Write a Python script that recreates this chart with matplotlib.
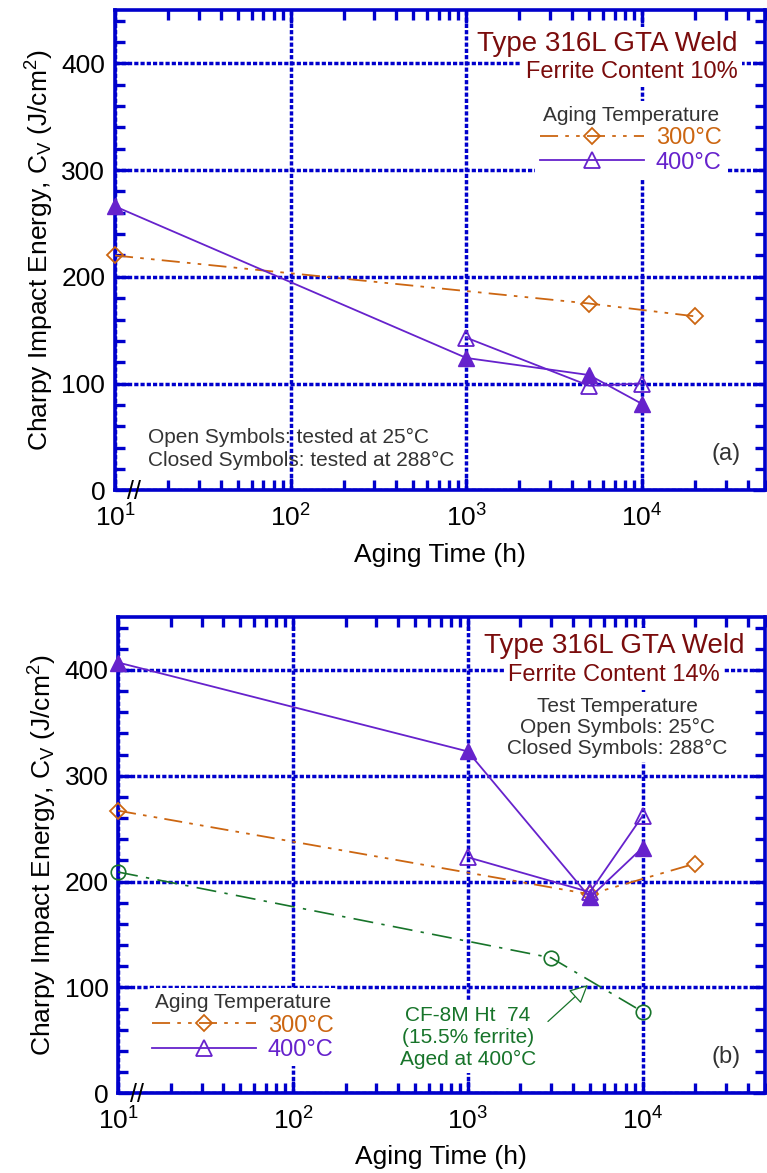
import matplotlib
matplotlib.use('Agg')
import matplotlib.pyplot as plt
from matplotlib.lines import Line2D
from matplotlib.ticker import LogLocator, MultipleLocator, NullFormatter

plt.rcParams['font.family'] = ['Liberation Sans', 'DejaVu Sans']
plt.rcParams['mathtext.fontset'] = 'custom'
plt.rcParams['mathtext.rm'] = 'Liberation Sans'
plt.rcParams['mathtext.it'] = 'Liberation Sans:italic'

# ---- data ----
# panel (a): ferrite content 10%
a_300_t = [10, 5000, 20000]
a_300_open = [220, 175, 163]
a_400_t_closed = [10, 1000, 5000, 10000]
a_400_closed = [266, 124, 108, 81]
a_400_t_open = [1000, 5000, 10000]
a_400_open = [143, 98, 100]

# panel (b): ferrite content 14%
b_300_t = [10, 5000, 20000]
b_300_open = [267, 188, 217]
b_400_t_closed = [10, 1000, 5000, 10000]
b_400_closed = [407, 323, 185, 232]
b_400_t_open = [1000, 5000, 10000]
b_400_open = [223, 190, 262]
cf8m_t = [10, 3000, 10000]
cf8m = [209, 128, 77]

blue = '#0000cc'
orange = '#cc6611'
purple = '#6622cc'
green = '#17742a'
maroon = '#7a0c0c'
gray = '#333333'
ls_300 = (0, (10, 4, 2, 4, 2, 4))
ls_cf = (0, (12, 5, 2, 5))
ms = 11


def style_axes(ax):
    ax.set_xscale('log')
    ax.set_xlim(10, 5e4)
    ax.set_ylim(0, 450)
    ax.yaxis.set_major_locator(MultipleLocator(100))
    ax.yaxis.set_minor_locator(MultipleLocator(20))
    ax.xaxis.set_major_locator(LogLocator(base=10, numticks=10))
    ax.xaxis.set_minor_locator(LogLocator(base=10, subs=range(2, 10), numticks=20))
    ax.xaxis.set_minor_formatter(NullFormatter())
    ax.set_axisbelow(True)
    ax.grid(which='major', color=blue, linestyle=(0, (1.2, 0.6)), linewidth=2.5)
    for s in ax.spines.values():
        s.set_color(blue)
        s.set_linewidth(2.6)
    ax.tick_params(which='both', direction='in', top=True, right=True, color=blue,
                   width=2.4, labelsize=19)
    ax.tick_params(axis='y', pad=7)
    ax.tick_params(axis='x', pad=10)
    ax.tick_params(which='major', length=9)
    ax.tick_params(which='minor', length=7)
    ax.set_xlabel('Aging Time (h)', fontsize=19, labelpad=8)
    ax.set_ylabel('Charpy Impact Energy, C$_\\mathregular{V}$ (J/cm$^\\mathregular{2}$)',
                  fontsize=19, labelpad=4)
    ax.text(0.029, -0.004, '//', transform=ax.transAxes, fontsize=18, ha='center', va='center',
            clip_on=False, zorder=6)


def draw_300(ax, t, v):
    ax.plot(t, v, color=orange, linestyle=ls_300, linewidth=1.3, marker='D', markersize=ms * 0.75,
            markerfacecolor='none', markeredgecolor=orange, markeredgewidth=1.3, clip_on=False, zorder=5)


def draw_400(ax, t_c, v_c, t_o, v_o):
    ax.plot(t_c, v_c, color=purple, linewidth=1.3, marker='^', markersize=ms,
            markerfacecolor=purple, markeredgecolor=purple, clip_on=False, zorder=5)
    ax.plot(t_o, v_o, color=purple, linewidth=1.3, marker='^', markersize=ms,
            markerfacecolor='none', markeredgecolor=purple, markeredgewidth=1.3, clip_on=False, zorder=5)


def add_legend(ax, loc):
    handles = [Line2D([], [], color=orange, linestyle=ls_300, linewidth=1.3, marker='D',
                      markersize=ms * 0.75, markerfacecolor='none', markeredgewidth=1.3),
               Line2D([], [], color=purple, linewidth=1.3, marker='^', markersize=ms,
                      markerfacecolor='none', markeredgewidth=1.3)]
    leg = ax.legend(handles, ['300°C', '400°C'], title='Aging Temperature', loc='center',
                    bbox_to_anchor=loc, fontsize=17, title_fontsize=15, frameon=True,
                    facecolor='white', edgecolor='none', framealpha=1, handlelength=4.4,
                    handletextpad=0.5, labelspacing=0.1, borderpad=0.2, labelcolor=[orange, purple])
    leg.get_title().set_color(gray)
    leg.set_zorder(4)


box = dict(facecolor='white', edgecolor='none', pad=3)

fig = plt.figure(figsize=(7.67, 11.73), dpi=100)

# ---- panel (a) ----
ax1 = fig.add_axes([0.150, 0.582, 0.847, 0.4095])
style_axes(ax1)
draw_300(ax1, a_300_t, a_300_open)
draw_400(ax1, a_400_t_closed, a_400_closed, a_400_t_open, a_400_open)
ax1.text(0.958, 0.929, 'Type 316L GTA Weld', transform=ax1.transAxes, fontsize=20,
         color=maroon, ha='right', va='center', bbox=box)
ax1.text(0.958, 0.871, 'Ferrite Content 10%', transform=ax1.transAxes, fontsize=17,
         color=maroon, ha='right', va='center', bbox=box)
add_legend(ax1, (0.794, 0.730))
ax1.text(0.05, 0.111, 'Open Symbols: tested at 25°C', transform=ax1.transAxes, fontsize=15,
         color=gray, ha='left', va='center')
ax1.text(0.05, 0.062, 'Closed Symbols: tested at 288°C', transform=ax1.transAxes, fontsize=15,
         color=gray, ha='left', va='center')
ax1.text(0.94, 0.076, '(a)', transform=ax1.transAxes, fontsize=17, color=gray,
         ha='center', va='center')

# ---- panel (b) ----
ax2 = fig.add_axes([0.154, 0.068, 0.843, 0.406])
style_axes(ax2)
ax2.plot(cf8m_t, cf8m, color=green, linestyle=ls_cf, linewidth=1.2, marker='o', markersize=ms * 0.95,
         markerfacecolor='none', markeredgecolor=green, markeredgewidth=1.2, clip_on=False, zorder=5)
draw_300(ax2, b_300_t, b_300_open)
draw_400(ax2, b_400_t_closed, b_400_closed, b_400_t_open, b_400_open)
ax2.text(0.767, 0.940, 'Type 316L GTA Weld', transform=ax2.transAxes, fontsize=20,
         color=maroon, ha='center', va='center', bbox=box)
ax2.text(0.767, 0.878, 'Ferrite Content 14%', transform=ax2.transAxes, fontsize=17,
         color=maroon, ha='center', va='center', bbox=box)
ax2.text(0.772, 0.768, 'Test Temperature\nOpen Symbols: 25°C\nClosed Symbols: 288°C',
         transform=ax2.transAxes, fontsize=15, color=gray, ha='center', va='center',
         multialignment='center', linespacing=1.15, bbox=box)
add_legend(ax2, (0.193, 0.139))
ax2.annotate('', xy=(5000, 104), xytext=(2800, 66),
             arrowprops=dict(arrowstyle='-|>', color=green, lw=0.9, fc='white', mutation_scale=28))
ax2.text(0.541, 0.118, 'CF-8M Ht  74\n(15.5% ferrite)\nAged at 400°C', transform=ax2.transAxes,
         fontsize=15, color=green, ha='center', va='center', linespacing=1.2, bbox=box)
ax2.text(0.94, 0.076, '(b)', transform=ax2.transAxes, fontsize=17, color=gray,
         ha='center', va='center')

fig.savefig('out.png', dpi=100)
